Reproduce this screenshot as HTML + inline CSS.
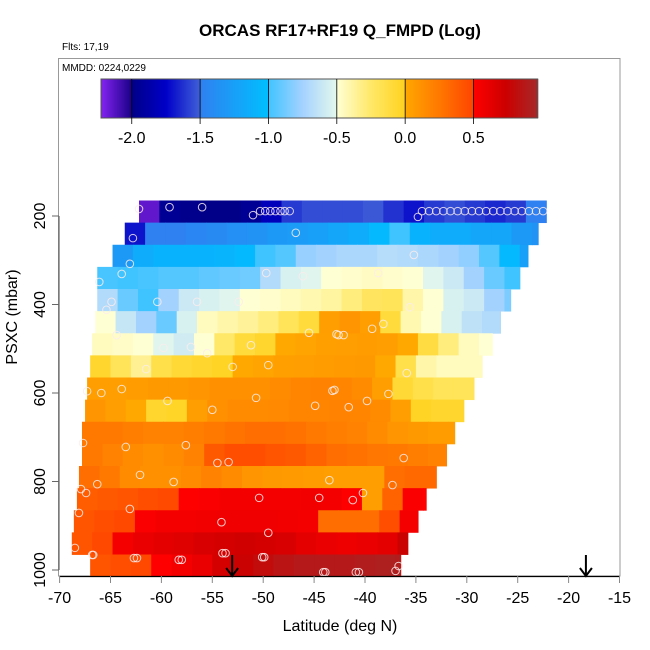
<!DOCTYPE html>
<html><head><meta charset="utf-8"><style>
html,body{margin:0;padding:0;background:#fff;}
svg{display:block;font-family:"Liberation Sans",sans-serif;}
</style></head><body>
<svg id="chart" width="650" height="650" viewBox="0 0 650 650">
<text x="340" y="36" text-anchor="middle" font-size="17" font-weight="bold">ORCAS RF17+RF19 Q_FMPD (Log)</text>
<text x="62" y="50" font-size="10">Flts: 17,19</text>
<rect x="58.5" y="58.5" width="561.5" height="517.5" fill="none" stroke="#999"/>
<text x="62" y="71" font-size="10">MMDD: 0224,0229</text>
<g id="cells"></g>
<g id="pts"></g>
<g id="cbar"></g>
<g id="axes"></g>
<text x="340" y="631" text-anchor="middle" font-size="16">Latitude (deg N)</text>
<text transform="translate(17,317) rotate(-90)" text-anchor="middle" font-size="16">PSXC (mbar)</text>
</svg>
<script>
// ---- data ----
const bandPressure = [190,240,290,340,390,440,490,540,590,640,690,740,790,840,890,940,990];
const bandLeft = [-62.2,-63.6,-64.8,-66.3,-66.3,-66.5,-66.8,-67.0,-67.3,-67.5,-67.8,-67.8,-68.1,-68.3,-68.6,-68.8,-67.0];
const bandRight = [-22.0,-23.0,-24.0,-24.8,-25.7,-26.7,-27.5,-28.5,-29.3,-30.3,-31.2,-32.0,-33.0,-34.0,-34.8,-35.8,-36.5];
const cellWidth = 2;
const bandValues = [
[-2.15,-1.95,-1.98,-2.0,-2.0,-1.95,-1.8,-1.6,-1.55,-1.55,-1.55,-1.52,-1.62,-1.7,-1.6,-1.55,-1.6,-1.65,-1.6,-1.5],
[-1.7,-1.5,-1.5,-1.45,-1.42,-1.38,-1.35,-1.3,-1.28,-1.25,-1.2,-1.15,-1.05,-1.0,-1.1,-1.15,-1.15,-1.2,-1.2,-1.3,-1.35],
[-1.3,-1.15,-1.1,-1.1,-1.1,-1.08,-1.05,-1.0,-0.95,-0.78,-0.75,-0.72,-0.72,-0.68,-0.7,-0.72,-0.75,-0.8,-0.95,-1.05,-1.25],
[-0.98,-1.0,-0.98,-0.95,-0.95,-0.92,-0.9,-0.88,-0.7,-0.55,-0.52,-0.5,-0.48,-0.46,-0.48,-0.5,-0.52,-0.6,-0.75,-0.9,-1.0],
[-0.7,-0.9,-1.0,-0.75,-0.6,-0.55,-0.52,-0.5,-0.48,-0.45,-0.42,-0.38,-0.3,-0.22,-0.2,-0.4,-0.5,-0.55,-0.6,-0.75,-0.85],
[-0.5,-0.62,-0.75,-0.9,-0.55,-0.45,-0.4,-0.36,-0.3,-0.2,-0.1,0.05,0.1,0.05,-0.1,-0.42,-0.5,-0.55,-0.65,-0.7],
[-0.45,-0.47,-0.5,-0.52,-0.58,-0.5,-0.25,-0.1,-0.05,0.0,0.02,0.04,0.05,0.06,0.05,0.0,-0.12,-0.3,-0.45,-0.5],
[-0.05,-0.2,-0.35,-0.15,-0.08,-0.05,-0.02,0.0,0.02,0.04,0.05,0.06,0.07,0.08,0.0,-0.15,-0.4,-0.45,-0.45,-0.45],
[0.05,0.05,0.06,0.08,0.08,0.1,0.12,0.12,0.12,0.15,0.18,0.2,0.18,0.15,0.05,-0.08,-0.15,-0.2,-0.2],
[0.1,0.05,0.0,-0.05,-0.03,0.05,0.12,0.15,0.15,0.16,0.18,0.18,0.2,0.18,0.15,0.05,-0.02,-0.05,-0.05],
[0.25,0.25,0.22,0.2,0.2,0.22,0.25,0.27,0.3,0.3,0.28,0.25,0.22,0.2,0.15,0.1,0.08,0.06,0.06],
[0.25,0.2,0.15,0.12,0.15,0.2,0.4,0.45,0.45,0.42,0.4,0.35,0.3,0.28,0.26,0.25,0.22,0.2],
[0.3,0.25,0.15,0.12,0.12,0.15,0.2,0.15,0.1,0.08,0.07,0.06,0.05,0.05,0.05,0.3,0.32,0.32],
[0.38,0.4,0.42,0.45,0.47,0.5,0.52,0.55,0.55,0.55,0.55,0.56,0.55,0.5,0.05,0.35,0.52,0.5],
[0.42,0.45,0.48,0.52,0.55,0.55,0.56,0.57,0.57,0.57,0.56,0.55,0.3,0.3,0.3,0.45,0.55],
[0.42,0.48,0.55,0.6,0.62,0.65,0.68,0.7,0.72,0.7,0.68,0.62,0.6,0.58,0.6,0.62,0.75],
[0.42,0.45,0.48,0.5,0.55,0.6,0.7,0.75,0.8,0.85,0.88,0.88,0.88,0.9,0.92,0.9]
];
const pointLat = [-62.2,-59.2,-56.0,-51.0,-50.3,-49.8,-49.3,-48.8,-48.3,-47.9,-47.4,-62.8,-46.8,-63.1,-63.9,-66.1,-49.7,-46.1,-64.9,-60.4,-56.5,-52.4,-65.4,-45.5,-42.8,-64.4,-59.8,-57.1,-55.5,-51.2,-61.5,-53.0,-49.5,-67.3,-65.9,-63.9,-43.0,-34.8,
-34.4,-33.7,-33.0,-32.3,-31.6,-30.9,-30.2,-29.5,-28.8,-28.1,-27.4,-26.7,-26.0,-25.3,-24.6,-23.9,-23.2,-22.5,
-35.2,-38.7,-35.6,-39.3,-38.2,-42.6,-42.1,-35.9,-37.7,-59.4,-55.0,-50.7,-44.9,-67.7,-63.5,-57.6,-54.5,-53.4,-62.1,-58.8,-43.5,-67.9,-67.4,-66.3,-50.4,-44.5,-68.1,-63.1,-54.1,-49.5,-68.5,-66.8,-66.7,-62.7,-62.4,-58.3,-58.0,-54.0,-53.7,-50.1,-49.9,-44.1,-43.9,-43.2,-39.8,-41.6,-36.2,-37.3,-40.2,-41.2,-40.9,-40.6,-37.0,-36.7];
const pointPres = [184,180,180,198,189,189,189,189,189,189,189,250,238,308,331,349,329,336,394,394,394,394,412,464,467,469,498,496,510,492,546,541,537,596,600,591,593,202,
189,189,189,189,189,189,189,189,189,189,189,189,189,189,189,189,189,189,
288,329,406,455,444,469,469,555,602,618,638,611,629,713,722,718,758,756,785,801,797,817,826,806,837,837,871,862,892,916,950,966,966,973,973,977,977,962,962,971,971,1005,1005,595,618,632,747,808,826,842,1005,1005,1002,991];
const arrowLat = [-53.05,-18.3];
const xTicks = [-70,-65,-60,-55,-50,-45,-40,-35,-30,-25,-20,-15];
const yTicks = [200,400,600,800,1000];
const cbTicks = [-2.0,-1.5,-1.0,-0.5,0.0,0.5];
const cbMin = -2.225, cbMax = 0.973;

// ---- scales ----
const X = lat => 59.6 + (lat + 70) * 10.18;
const Y = p => 216 + (p - 200) * 0.4425;
const CX = v => 101 + (v - cbMin) * 136.7;

const segs = [
 [-2.225,-2.0,['#8424f0','#1a0088']],
 [-2.0,-1.5,['#000088','#0000c8','#4060d8']],
 [-1.5,-1.0,['#2f80f0','#00bfff']],
 [-1.0,-0.5,['#40c4ff','#a4d2ff','#e4f8ec']],
 [-0.5,0.0,['#ffffd4','#ffe868','#ffd21e']],
 [0.0,0.5,['#ffa800','#ff7800','#ff4400']],
 [0.5,0.975,['#ff0000','#cc0000','#a52a2a']]
];
function hex(c){return [1,3,5].map(i=>parseInt(c.substr(i,2),16));}
function color(v){
  v=Math.max(cbMin,Math.min(0.974,v));
  let s=segs.find(s=>v>=s[0]&&v<s[1])||segs[segs.length-1];
  let t=(v-s[0])/(s[1]-s[0]); const cs=s[2]; const n=cs.length-1;
  let k=Math.min(n-1,Math.floor(t*n)); let f=t*n-k;
  const a=hex(cs[k]), b=hex(cs[k+1]);
  return 'rgb('+a.map((x,i)=>Math.round(x+(b[i]-x)*f)).join(',')+')';
}
const NS='http://www.w3.org/2000/svg';
function mk(tag,attrs,parent){const e=document.createElementNS(NS,tag);for(const k in attrs)e.setAttribute(k,attrs[k]);parent.appendChild(e);return e;}

// ---- heatmap ----
const gC=document.getElementById('cells');
bandPressure.forEach((p,b)=>{
  const y0=Y(p-25), y1=Y(p+25);
  bandValues[b].forEach((v,i)=>{
    const l=bandLeft[b]+i*cellWidth, r=Math.min(bandRight[b],l+cellWidth);
    const e=mk('rect',{x:X(l),y:y0,width:X(r)-X(l)+0.6,height:y1-y0+0.4,fill:color(v)},gC);
    
    
  });
});
// ---- points ----
const gP=document.getElementById('pts');
pointLat.forEach((lat,i)=>{
  const e=mk('circle',{cx:X(lat),cy:Y(pointPres[i]),r:3.8,fill:'none',stroke:'#fbecec','stroke-opacity':0.85,'stroke-width':1},gP);
  
  
});
// ---- arrows ----
const gA=document.getElementById('axes');
arrowLat.forEach(lat=>{
  const x=X(lat);
  const g=mk('g',{},gA);
  
  
  mk('line',{x1:x,y1:555,x2:x,y2:576,stroke:'#000','stroke-width':2},g);
  mk('polyline',{points:(x-6)+',568 '+x+',576 '+(x+6)+',568',fill:'none',stroke:'#000','stroke-width':2},g);
});
// ---- axes ----
mk('line',{x1:X(-70),y1:576.5,x2:X(-15),y2:576.5,stroke:'#000','stroke-width':1.2},gA);
xTicks.forEach(t=>{
  const x=X(t);
  mk('line',{x1:x,y1:576,x2:x,y2:583,stroke:'#888'},gA);
  const e=mk('text',{x:x,y:603,'text-anchor':'middle','font-size':16},gA);
  e.textContent=t;
  
  
});
mk('line',{x1:59,y1:Y(200),x2:59,y2:Y(1000),stroke:'#666','stroke-width':1.2},gA);
yTicks.forEach(t=>{
  const y=Y(t);
  mk('line',{x1:52,y1:y,x2:59,y2:y,stroke:'#666'},gA);
  const e=mk('text',{transform:'translate(45,'+y+') rotate(-90)','text-anchor':'middle','font-size':16},gA);
  e.textContent=t;
  
  
});
// ---- colorbar ----
const gB=document.getElementById('cbar');
for(let i=0;i<437;i++){
  const v=cbMin+(i+0.5)/136.7;
  mk('rect',{x:101+i,y:79,width:1.2,height:39,fill:color(v)},gB);
}
mk('rect',{x:101,y:79,width:436.7,height:39,fill:'none',stroke:'#555'},gB);
cbTicks.forEach(t=>{
  const x=CX(t);
  mk('line',{x1:x,y1:79,x2:x,y2:124,stroke:'#000','stroke-width':0.8},gB);
  const e=mk('text',{x:x,y:143,'text-anchor':'middle','font-size':16},gB);
  e.textContent=t.toFixed(1);
  
  
});
</script>
</body></html>
